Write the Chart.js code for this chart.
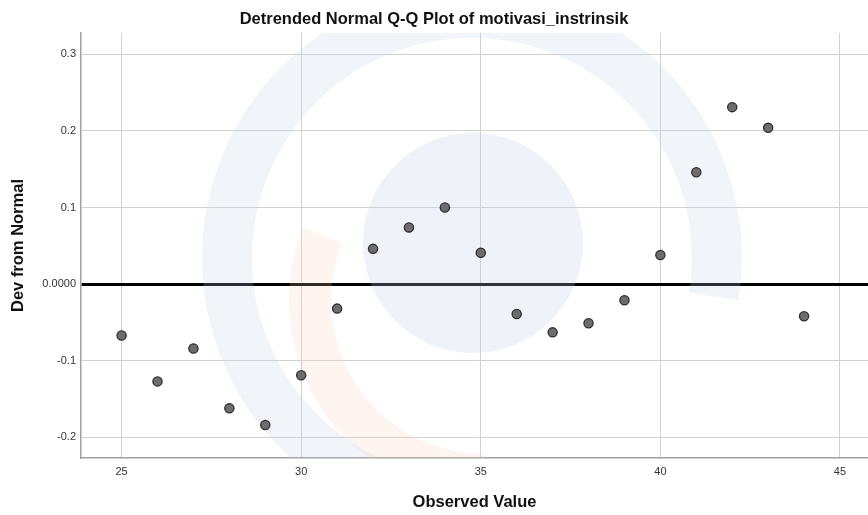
<!DOCTYPE html>
<html>
<head>
<meta charset="utf-8">
<script src="https://cdn.jsdelivr.net/npm/chart.js@4"></script>
<style>
  html, body { margin: 0; padding: 0; background: #fff; overflow: hidden; }
  #wrap { width: 868px; height: 515px; }
</style>
</head>
<body>
<div id="wrap"><canvas id="qq"></canvas></div>
<script>
// observed values and their deviation from normal
const observed = [25, 26, 27, 28, 29, 30, 31, 32, 33, 34, 35, 36, 37, 38, 39, 40, 41, 42, 43, 44];
const devFromNormal = [-0.067, -0.127, -0.084, -0.162, -0.184, -0.119, -0.032, 0.046, 0.074, 0.100,
    0.041, -0.039, -0.063, -0.051, -0.021, 0.038, 0.146, 0.231, 0.204, -0.042];

const xTicks = [25, 30, 35, 40, 45];
const yTicks = [-0.2, -0.1, 0, 0.1, 0.2, 0.3];

const points = observed.map((x, i) => ({ x, y: devFromNormal[i] }));

// faint logo in the background
const watermark = {
    id: 'watermark',
    beforeDatasetsDraw(chart) {
        const ctx = chart.ctx;
        ctx.save();
        ctx.beginPath();
        ctx.rect(chart.chartArea.left, chart.chartArea.top, chart.chartArea.width, chart.chartArea.height);
        ctx.clip();
        // big blue C
        ctx.strokeStyle = 'rgba(190, 208, 232, 0.22)';
        ctx.lineWidth = 50;
        ctx.beginPath();
        ctx.arc(472, 258, 245, Math.PI * 0.62, Math.PI * 2.05);
        ctx.stroke();
        // inner blue circle
        ctx.fillStyle = 'rgba(190, 208, 232, 0.25)';
        ctx.beginPath();
        ctx.arc(473, 243, 110, 0, Math.PI * 2);
        ctx.fill();
        // orange crescent
        ctx.strokeStyle = 'rgba(250, 205, 185, 0.2)';
        ctx.lineWidth = 42;
        ctx.beginPath();
        ctx.arc(485, 300, 175, Math.PI * 0.5, Math.PI * 1.12);
        ctx.stroke();
        ctx.restore();
    }
};

const fontFamily = 'Arial, "Liberation Sans", sans-serif';

new Chart(document.getElementById('qq'), {
    type: 'scatter',
    data: {
        datasets: [{
            label: 'Dev from Normal',
            data: points,
            backgroundColor: '#6d6d6d',
            borderColor: '#2e2e2e',
            borderWidth: 1.3,
            pointRadius: 4.6,
            pointHoverRadius: 4.6
        }]
    },
    options: {
        responsive: true,
        maintainAspectRatio: false,
        animation: false,
        layout: { padding: 0, autoPadding: false },
        plugins: {
            legend: { display: false },
            tooltip: { enabled: false },
            title: {
                display: true,
                text: 'Detrended Normal Q-Q Plot of motivasi_instrinsik',
                color: '#111',
                font: { family: fontFamily, size: 16.5, weight: 'bold' },
                padding: { top: 10, bottom: 3.2 }
            }
        },
        scales: {
            x: {
                type: 'linear',
                min: 23.87,
                max: 45.78,
                afterBuildTicks: scale => { scale.ticks = xTicks.map(v => ({ value: v })); },
                afterFit: scale => { scale.height = 57; },
                border: { display: true, color: '#a0a0a0', width: 1.5 },
                grid: { color: '#d2d2d2', lineWidth: 1, drawTicks: false },
                ticks: {
                    color: '#333',
                    padding: 7,
                    maxRotation: 0,
                    font: { family: fontFamily, size: 11 }
                },
                title: {
                    display: true,
                    text: 'Observed Value',
                    color: '#111',
                    font: { family: fontFamily, size: 16.5, weight: 'bold' },
                    padding: { top: 0, bottom: 3.1 }
                }
            },
            y: {
                type: 'linear',
                min: -0.227,
                max: 0.3278,
                afterBuildTicks: scale => { scale.ticks = yTicks.map(v => ({ value: v })); },
                afterFit: scale => { scale.width = 81; },
                border: { display: true, color: '#a0a0a0', width: 1.5 },
                grid: {
                    drawTicks: false,
                    color: ctx => ctx.tick && ctx.tick.value === 0 ? '#000' : '#d2d2d2',
                    lineWidth: ctx => ctx.tick && ctx.tick.value === 0 ? 3 : 1
                },
                ticks: {
                    color: '#333',
                    padding: 5,
                    font: { family: fontFamily, size: 11 },
                    callback: v => v === 0 ? '0.0000' : v.toFixed(1)
                },
                title: {
                    display: true,
                    text: 'Dev from Normal',
                    color: '#111',
                    font: { family: fontFamily, size: 16.5, weight: 'bold' },
                    padding: { top: 8.1, bottom: 0 }
                }
            }
        }
    },
    plugins: [watermark]
});
</script>
</body>
</html>
